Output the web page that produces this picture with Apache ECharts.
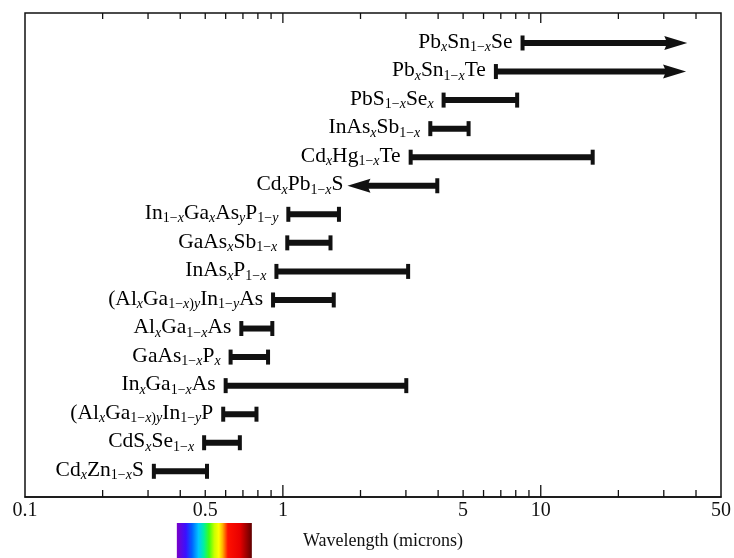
<!DOCTYPE html>
<html><head><meta charset="utf-8">
<script src="https://cdn.jsdelivr.net/npm/echarts@6/dist/echarts.min.js"></script>
<style>html,body{margin:0;padding:0;background:#fff}#c{width:734px;height:558px}</style>
</head><body><div id="c"></div>
<script>
// ---- data ----
const labels = [
  "Pb_{x}Sn_{1-x}Se",
  "Pb_{x}Sn_{1-x}Te",
  "PbS_{1-x}Se_{x}",
  "InAs_{x}Sb_{1-x}",
  "Cd_{x}Hg_{1-x}Te",
  "Cd_{x}Pb_{1-x}S",
  "In_{1-x}Ga_{x}As_{y}P_{1-y}",
  "GaAs_{x}Sb_{1-x}",
  "InAs_{x}P_{1-x}",
  "(Al_{x}Ga_{1-x)y}In_{1-y}As",
  "Al_{x}Ga_{1-x}As",
  "GaAs_{1-x}P_{x}",
  "In_{x}Ga_{1-x}As",
  "(Al_{x}Ga_{1-x)y}In_{1-y}P",
  "CdS_{x}Se_{1-x}",
  "Cd_{x}Zn_{1-x}S"
];
const lowWavelength  = [8.5, 6.7, 4.2, 3.73, 3.13, 1.78, 1.05, 1.04, 0.944, 0.916, 0.69, 0.627, 0.60, 0.587, 0.495, 0.316];
const highWavelength = [37, 36.6, 8.1, 5.25, 15.9, 3.97, 1.65, 1.53, 3.06, 1.575, 0.91, 0.876, 3.01, 0.79, 0.681, 0.508];
const leftEnd  = ["cap","cap","cap","cap","cap","arrow","cap","cap","cap","cap","cap","cap","cap","cap","cap","cap"];
const rightEnd = ["arrow","arrow","cap","cap","cap","cap","cap","cap","cap","cap","cap","cap","cap","cap","cap","cap"];
const tickLabelValues = [0.1, 0.5, 1, 5, 10, 50];
const majorTickValues = [1, 10];
const minorTickValues = [0.2,0.3,0.4,0.5,0.6,0.7,0.8,0.9,2,3,4,5,6,7,8,9,20,30,40];
const visibleRange = [0.388, 0.758];
const axisTitle = "Wavelength (microns)";

// ---- helpers ----
function toRich(str) {
  let out = "";
  const re = /_\{([^}]*)\}|([^_]+)/g;
  let m;
  while ((m = re.exec(str)) !== null) {
    if (m[1] !== undefined) {
      let buf = "", cur = null;
      for (const ch0 of m[1]) {
        const ch = ch0 === "-" ? "\u2212" : ch0;
        const st = /[a-z]/.test(ch) ? "si" : "s";
        if (st !== cur && buf) { out += "{" + cur + "|" + buf + "}"; buf = ""; }
        cur = st; buf += ch;
      }
      if (buf) out += "{" + cur + "|" + buf + "}";
    } else {
      out += "{n|" + m[2] + "}";
    }
  }
  return out;
}
const FONT = "'Liberation Serif', 'Times New Roman', serif";
const INK = "#111";
const rich = {
  n: { fontFamily: FONT, fontSize: 21.5, lineHeight: 25, color: INK, verticalAlign: "middle" },
  s: { fontFamily: FONT, fontSize: 14, lineHeight: 14, color: INK, verticalAlign: "bottom" },
  si: { fontFamily: FONT, fontSize: 14, lineHeight: 14, color: INK, fontStyle: "italic", verticalAlign: "bottom" }
};

const barData = labels.map((l, i) => [lowWavelength[i], highWavelength[i], i]);
const tickData = minorTickValues.map(v => [v, 0]).concat(majorTickValues.map(v => [v, 1]));

const chart = echarts.init(document.getElementById("c"), null, { renderer: "canvas" });
chart.setOption({
  animation: false,
  backgroundColor: "#fff",
  grid: { left: 25, right: 12, top: 13, bottom: 61, show: true, borderColor: INK, borderWidth: 1.5, backgroundColor: "transparent" },
  xAxis: {
    type: "log", logBase: 10, min: 0.1, max: 50,
    axisLine: { show: true, onZero: false, lineStyle: { color: INK, width: 1.5 } },
    axisTick: { show: false },
    splitLine: { show: false },
    minorTick: { show: false },
    axisLabel: {
      customValues: tickLabelValues,
      fontFamily: FONT, fontSize: 20, color: INK, margin: 4,
      formatter: v => String(+(+v).toPrecision(6))
    },
    name: axisTitle, nameLocation: "middle", nameGap: 35,
    nameTextStyle: { fontFamily: FONT, fontSize: 18, color: INK, padding: [0, 0, 0, 20] }
  },
  yAxis: { type: "value", inverse: true, min: -1.05, max: 15.9, show: false },
  series: [
    {
      type: "custom", silent: true, clip: false,
      data: tickData,
      renderItem(params, api) {
        const x = api.coord([api.value(0), 0])[0];
        const major = api.value(1) === 1;
        const cs = params.coordSys;
        const yb = cs.y + cs.height, yt = cs.y;
        const lb = major ? 12 : 7, lt = major ? 10 : 6;
        return { type: "group", children: [
          { type: "line", shape: { x1: x, y1: yb, x2: x, y2: yb - lb }, style: { stroke: INK, lineWidth: 1.3 } },
          { type: "line", shape: { x1: x, y1: yt, x2: x, y2: yt + lt }, style: { stroke: INK, lineWidth: 1.3 } }
        ]};
      }
    },
    {
      type: "custom", silent: true, clip: false,
      data: [[visibleRange[0], visibleRange[1], 0]],
      encode: { x: [0, 1], y: 2 },
      renderItem(params, api) {
        const x0 = api.coord([api.value(0), 0])[0];
        const x1 = api.coord([api.value(1), 0])[0];
        const cs = params.coordSys;
        const y0 = cs.y + cs.height + 26;
        return {
          type: "rect", shape: { x: x0, y: y0, width: x1 - x0, height: 40 },
          style: { fill: new echarts.graphic.LinearGradient(0, 0, 1, 0, [
            { offset: 0, color: "#7a00c8" },
            { offset: 0.12, color: "#3a10ff" },
            { offset: 0.2, color: "#0060ff" },
            { offset: 0.29, color: "#00c8ff" },
            { offset: 0.36, color: "#00f0a0" },
            { offset: 0.43, color: "#40ff10" },
            { offset: 0.5, color: "#c8ff00" },
            { offset: 0.56, color: "#ffff00" },
            { offset: 0.61, color: "#ffb000" },
            { offset: 0.68, color: "#ff1000" },
            { offset: 0.84, color: "#e80000" },
            { offset: 1, color: "#600000" }
          ]) }
        };
      }
    },
    {
      type: "custom", clip: false,
      data: barData,
      encode: { x: [0, 1], y: 2 },
      renderItem(params, api) {
        const i = params.dataIndex;
        const p0 = api.coord([api.value(0), api.value(2)]);
        const p1 = api.coord([api.value(1), api.value(2)]);
        const y = p0[1];
        const th = 6, capW = 4, capH = 15, arrL = 23, arrH = 14;
        const xs = p0[0], xe = p1[0];
        let ls = xs, le = xe;
        const ch = [];
        if (leftEnd[i] === "arrow") {
          ch.push({ type: "polygon", shape: { points: [[xs, y], [xs + arrL, y - arrH / 2], [xs + arrL - 3, y], [xs + arrL, y + arrH / 2]] }, style: { fill: INK } });
          ls = xs + arrL - 4;
        } else {
          ch.push({ type: "rect", shape: { x: xs - capW / 2, y: y - capH / 2, width: capW, height: capH }, style: { fill: INK } });
        }
        if (rightEnd[i] === "arrow") {
          ch.push({ type: "polygon", shape: { points: [[xe, y], [xe - arrL, y - arrH / 2], [xe - arrL + 3, y], [xe - arrL, y + arrH / 2]] }, style: { fill: INK } });
          le = xe - arrL + 4;
        } else {
          ch.push({ type: "rect", shape: { x: xe - capW / 2, y: y - capH / 2, width: capW, height: capH }, style: { fill: INK } });
        }
        ch.push({ type: "rect", shape: { x: ls, y: y - th / 2, width: le - ls, height: th }, style: { fill: INK } });
        const lx = leftEnd[i] === "arrow" ? xs - 4 : xs - capW / 2 - 8;
        ch.push({ type: "text", style: { text: toRich(labels[i]), rich: rich, x: lx, y: y - 1, align: "right", verticalAlign: "middle" } });
        return { type: "group", children: ch };
      }
    }
  ]
});
</script>
</body></html>
